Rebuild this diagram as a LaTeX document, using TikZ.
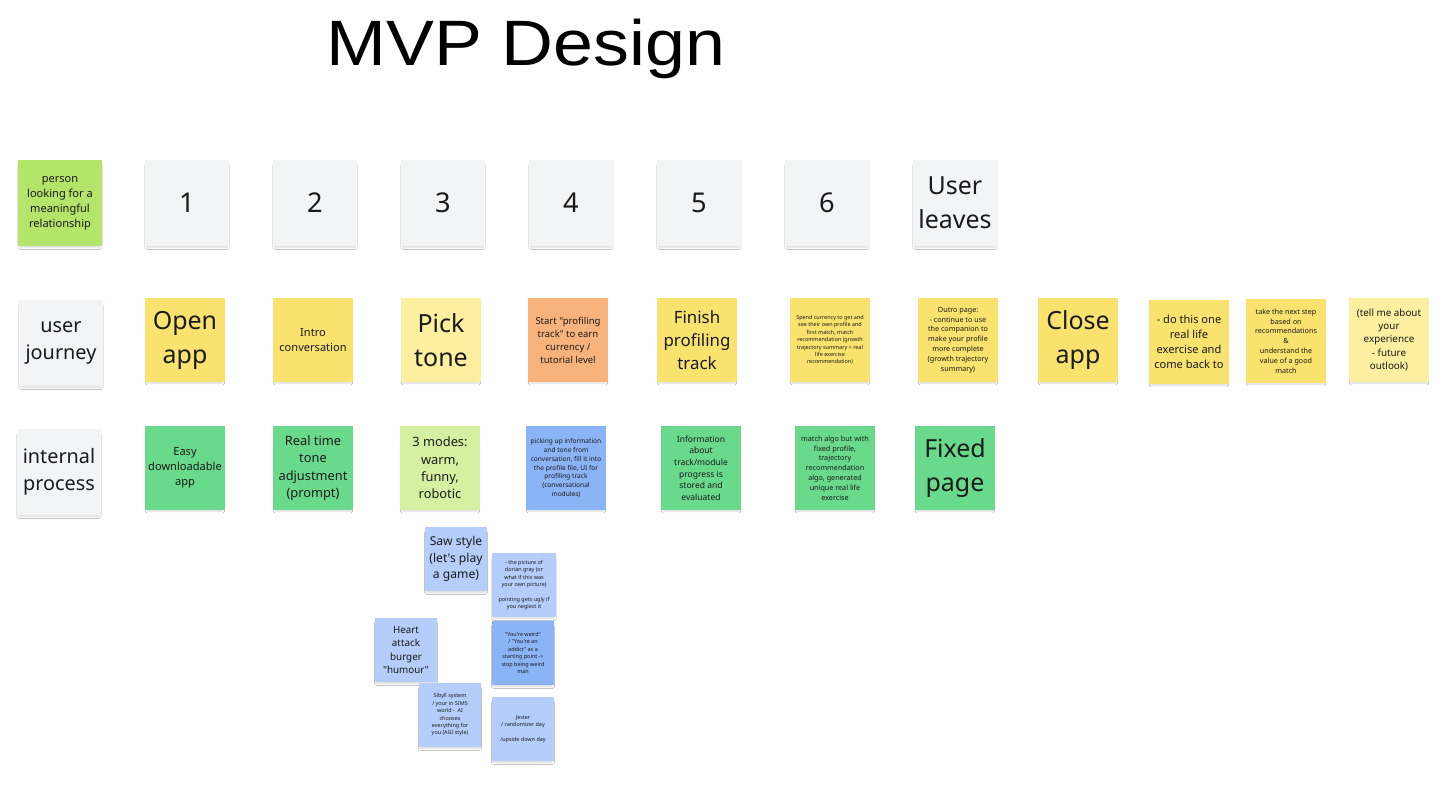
\documentclass[tikz,border=0pt]{standalone}
\usepackage{fontspec}
\setmainfont[Ligatures=TeXOff]{Noto Sans}
\newfontfamily\titlefont[FakeStretch=1.12]{Liberation Sans}
\usepackage{tikz}
\usetikzlibrary{shadows.blur}

\definecolor{ink}{HTML}{1A1A1A}
\definecolor{paper}{HTML}{F3F4F6}
\definecolor{lime}{HTML}{B5E46A}
\definecolor{sun}{HTML}{F9E26E}
\definecolor{paleSun}{HTML}{FCEFA0}
\definecolor{peach}{HTML}{F8B27C}
\definecolor{mint}{HTML}{69D98C}
\definecolor{paleMint}{HTML}{D4F0A0}
\definecolor{sky}{HTML}{8AB4F6}
\definecolor{paleSky}{HTML}{B4CDFA}

\tikzset{
  note/.style={rectangle, minimum width=1.6cm, minimum height=1.68cm, inner sep=0pt,
    align=center, text=ink,
    blur shadow={shadow xshift=0pt, shadow yshift=-2pt, shadow scale=0.95,
      shadow blur radius=1pt, shadow opacity=14}},
  lane/.style={note, fill=paper, minimum width=1.7cm, minimum height=1.74cm},
  mini/.style={note, minimum width=1.25cm, minimum height=1.28cm},
  fbig/.style={font=\fontsize{14.2}{19.3}\selectfont},
  fnum/.style={font=\fontsize{15.5}{19.3}\selectfont},
  flane/.style={font=\fontsize{11.3}{15.3}\selectfont},
  fmid/.style={font=\fontsize{9.6}{13}\selectfont},
  fsm/.style={font=\fontsize{7.3}{9.9}\selectfont},
  fsaw/.style={font=\fontsize{6.9}{9.35}\selectfont},
  fsix/.style={font=\fontsize{6.3}{8.5}\selectfont},
  ffive/.style={font=\fontsize{5.6}{7.65}\selectfont},
  fstart/.style={font=\fontsize{5.4}{7.4}\selectfont},
  finfo/.style={font=\fontsize{4.85}{6.6}\selectfont},
  ffour/.style={font=\fontsize{4.1}{5.6}\selectfont},
  fpick/.style={font=\fontsize{3.75}{5.1}\selectfont},
  ftiny/.style={font=\fontsize{3.1}{4.2}\selectfont},
}

\begin{document}
\begin{tikzpicture}[x=0.02cm, y=-0.02cm]
  \useasboundingbox (0,0) rectangle (1456,803);
  \fill[white] (0,0) rectangle (1456,803);

  % title
  \node[font=\titlefont\fontsize{36.5}{40}\selectfont, text=black] (title) at (526,49) {MVP Design};

  % row 1 -- steps
  \node[lane, fill=lime, fsix] (person) at (60,203) {person\\looking for a\\meaningful\\relationship};
  \foreach \n/\x in {1/187, 2/315, 3/443, 4/571, 5/699, 6/827}
    \node[lane, fnum] (step\n) at (\x,203) {\n};
  \node[lane, fbig] (leaves) at (955,203) {User\\leaves};

  % row 2 -- user journey
  \node[lane, flane] (journey) at (61,343) {user\\journey};
  \node[note, fill=sun, fbig] (open) at (185,340) {Open\\app};
  \node[note, fill=sun, fsix] (intro) at (313,340) {Intro\\conversation};
  \node[note, fill=paleSun, fbig] (tone) at (441,340) {Pick\\tone};
  \node[note, fill=peach, fstart] (start) at (568,340) {Start "profiling\\track" to earn\\currency /\\tutorial level};
  \node[note, fill=sun, fmid] (finish) at (697,340) {Finish\\profiling\\track};
  \node[note, fill=sun, ftiny] (spend) at (830,340) {Spend currency to get and\\see their own profile and\\first match, match\\recommendation (growth\\trajectory summary + real\\life exercise\\recommendation)};
  \node[note, fill=sun, ffour] (outro) at (958,340) {Outro page:\\- continue to use\\the companion to\\make your profile\\more complete\\(growth trajectory\\summary)};
  \node[note, fill=sun, fbig] (close) at (1078,340) {Close\\app};
  \node[note, fill=sun, fsix] (exercise) at (1189,342) {- do this one\\real life\\exercise and\\come back to};
  \node[note, fill=sun, ffour] (nextstep) at (1286,341) {take the next step\\based on\\recommendations\\\&\\understand the\\value of a good\\match};
  \node[note, fill=paleSun, ffive] (tellme) at (1389,340) {(tell me about\\your\\experience\\- future\\outlook)};

  % row 3 -- internal process
  \node[lane, flane] (internal) at (59,472) {internal\\process};
  \node[note, fill=mint, fsix] (easy) at (185,468) {Easy\\downloadable\\app};
  \node[note, fill=mint, fsm] (realtime) at (313,468) {Real time\\tone\\adjustment\\(prompt)};
  \node[note, fill=paleMint, fsm] (modes) at (440,468) {3 modes:\\warm,\\funny,\\robotic};
  \node[note, fill=sky, fpick] (pickup) at (566,468) {picking up information\\and tone from\\conversation, fill it into\\the profile file, UI for\\profiling track\\(conversational\\modules)};
  \node[note, fill=mint, finfo] (info) at (701,468) {Information\\about\\track/module\\progress is\\stored and\\evaluated};
  \node[note, fill=mint, ffour] (algo) at (835,468) {match algo but with\\fixed profile,\\trajectory\\recommendation\\algo, generated\\unique real life\\exercise};
  \node[note, fill=mint, fbig] (fixed) at (955,468) {Fixed\\page};

  % tone ideas
  \node[mini, fill=paleSky, fsaw] (saw) at (456,559) {Saw style\\(let's play\\a game)};
  \node[mini, fill=paleSky, ftiny, minimum width=1.28cm] (dorian) at (524,585) {- the picture of\\dorian gray (or\\what if this was\\your own picture)\\[4.2pt]pointing gets ugly if\\you neglect it};
  \node[mini, fill=paleSky, ffive] (burger) at (406,650) {Heart\\attack\\burger\\"humour"};
  \node[mini, fill=sky, ftiny] (weird) at (523,653) {"You're weird"\\/ "You're an\\addict" as a\\starting point ->\\stop being weird\\man};
  \node[mini, fill=paleSky, ftiny] (sibyll) at (450,715) {Sibyll system\\/ your in SIMS\\world -\ \ AI\\chooses\\everything for\\you (AGI style)};
  \node[mini, fill=paleSky, ftiny] (jester) at (523,729) {Jester\\/ randomizer day\\[4.2pt]/upside down day};
\end{tikzpicture}
\end{document}
